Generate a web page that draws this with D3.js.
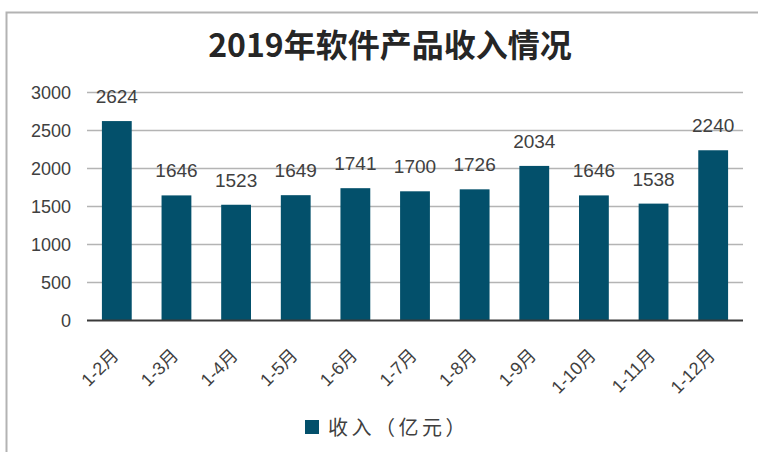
<!DOCTYPE html>
<html>
<head>
<meta charset="utf-8">
<script src="https://cdn.jsdelivr.net/npm/d3@7"></script>
<style>
  body { margin: 0; background: #fff; }
  svg { display: block; }
</style>
</head>
<body>
<div class="chart"></div>
<script>
// chart data
var months = ["1-2月", "1-3月", "1-4月", "1-5月", "1-6月", "1-7月", "1-8月", "1-9月", "1-10月", "1-11月", "1-12月"];
var income = [2624, 1646, 1523, 1649, 1741, 1700, 1726, 2034, 1646, 1538, 2240];
var yTicks = [0, 500, 1000, 1500, 2000, 2500, 3000];
var titleText = "2019年软件产品收入情况";
var legendText = "收入（亿元）";

var svgWidth = 758;
var svgHeight = 452;

var margin = { top: 92.5, right: 15, bottom: 131.5, left: 87 };
var chartWidth = svgWidth - margin.left - margin.right;
var chartHeight = svgHeight - margin.top - margin.bottom;

var barColor = "#03506b";
var textColor = "#404040";

var svg = d3.select(".chart")
  .append("svg")
  .attr("width", svgWidth)
  .attr("height", svgHeight);

// outer frame (only top and left edges are visible)
svg.append("path")
  .attr("d", "M6.5,460 L6.5,12.5 L770,12.5")
  .attr("fill", "none")
  .attr("stroke", "#b3b3b3")
  .attr("stroke-width", 2);

// title
svg.append("text")
  .attr("x", 390)
  .attr("y", 57)
  .attr("text-anchor", "middle")
  .style("font-family", "'Noto Sans CJK SC', sans-serif")
  .style("font-weight", "bold")
  .style("font-size", "32px")
  .attr("fill", "#262626")
  .text(titleText);

var chartGroup = svg.append("g")
  .attr("transform", `translate(${margin.left}, ${margin.top})`);

var xBandScale = d3.scaleBand()
  .domain(months)
  .range([0, chartWidth])
  .paddingInner(0.5)
  .paddingOuter(0.25);

var yLinearScale = d3.scaleLinear()
  .domain([0, 3000])
  .range([chartHeight, 0]);

// gridlines
chartGroup.append("g")
  .selectAll("line")
  .data(yTicks.filter(d => d > 0))
  .enter()
  .append("line")
  .attr("x1", 0)
  .attr("x2", chartWidth)
  .attr("y1", d => yLinearScale(d))
  .attr("y2", d => yLinearScale(d))
  .attr("stroke", "#b4b4b4")
  .attr("stroke-width", 1.5);

// left axis labels
var leftAxis = d3.axisLeft(yLinearScale)
  .tickValues(yTicks)
  .tickFormat(d3.format("d"))
  .tickSize(0)
  .tickPadding(16);
var yAxisG = chartGroup.append("g").call(leftAxis);
yAxisG.select(".domain").remove();
yAxisG.selectAll("text")
  .style("font-family", "'Liberation Sans', Arial, sans-serif")
  .style("font-size", "18px")
  .attr("fill", textColor);

// bars
chartGroup.selectAll(".bar")
  .data(income)
  .enter()
  .append("rect")
  .attr("class", "bar")
  .attr("x", (d, i) => xBandScale(months[i]))
  .attr("y", d => yLinearScale(d))
  .attr("width", xBandScale.bandwidth())
  .attr("height", d => chartHeight - yLinearScale(d))
  .attr("fill", barColor);

// value labels
chartGroup.selectAll(".val")
  .data(income)
  .enter()
  .append("text")
  .attr("class", "val")
  .attr("x", (d, i) => xBandScale(months[i]) + xBandScale.bandwidth() / 2)
  .attr("y", d => yLinearScale(d) - 18)
  .attr("text-anchor", "middle")
  .style("font-family", "'Liberation Sans', Arial, sans-serif")
  .style("font-size", "19px")
  .attr("fill", textColor)
  .text(d => d);

// bottom axis line
chartGroup.append("line")
  .attr("x1", 0)
  .attr("x2", chartWidth)
  .attr("y1", chartHeight)
  .attr("y2", chartHeight)
  .attr("stroke", "#3a3a3a")
  .attr("stroke-width", 2);

// rotated month labels
chartGroup.selectAll(".xlab")
  .data(months)
  .enter()
  .append("text")
  .attr("class", "xlab")
  .attr("transform", d => {
    var cx = xBandScale(d) + xBandScale.bandwidth() / 2 + 3;
    return `translate(${cx}, ${chartHeight + 36}) rotate(-45)`;
  })
  .attr("text-anchor", "end")
  .style("font-family", "'Liberation Sans', 'Noto Sans CJK SC', sans-serif")
  .style("font-size", "18px")
  .attr("fill", textColor)
  .text(d => d);

// legend
svg.append("rect")
  .attr("x", 305)
  .attr("y", 420)
  .attr("width", 14)
  .attr("height", 14)
  .attr("fill", barColor);

svg.append("text")
  .attr("x", 328)
  .attr("y", 435)
  .style("font-family", "'Noto Sans CJK SC', sans-serif")
  .style("font-size", "20px")
  .style("letter-spacing", "3.5px")
  .attr("fill", textColor)
  .text(legendText);
</script>
</body>
</html>
